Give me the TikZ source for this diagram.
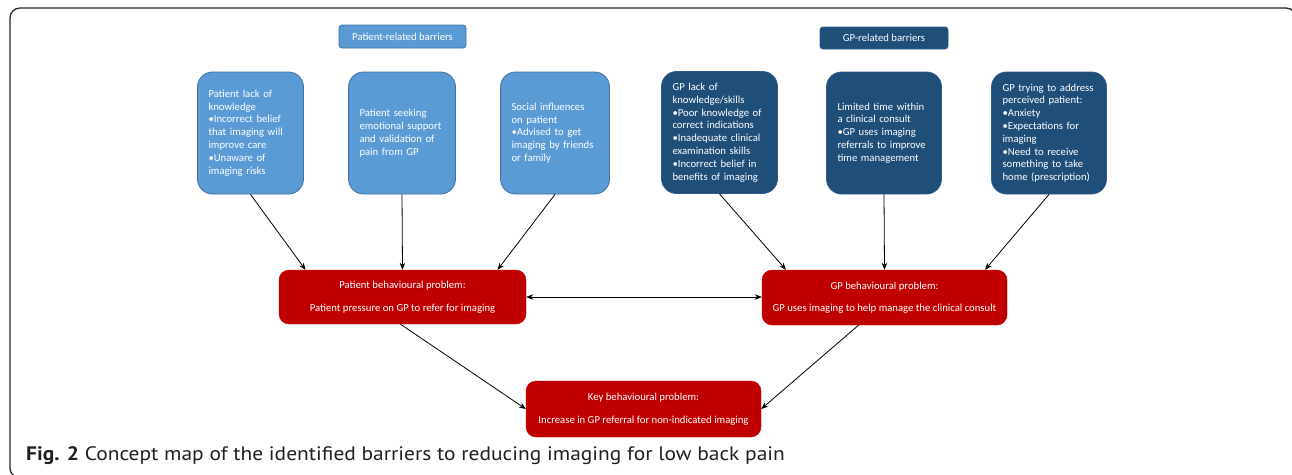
\documentclass[tikz,border=0pt]{standalone}
\usepackage{fontspec}
\setmainfont{Carlito}
\newfontfamily\capfont[FakeStretch=1.1]{PT Sans}
\usetikzlibrary{arrows.meta}
\definecolor{lblue}{HTML}{5B9BD5}
\definecolor{lblueb}{HTML}{41719C}
\definecolor{dblue}{HTML}{1F4E79}
\definecolor{dblueb}{HTML}{2E5C8A}
\definecolor{kred}{HTML}{C00000}
\definecolor{captxt}{HTML}{231F20}
\tikzset{
  boxtxt/.style={font=\fontsize{10.7}{12.8}\selectfont, text=white},
  pbox/.style={boxtxt, draw=lblueb, fill=lblue, rounded corners=15pt, align=left,
    inner xsep=11pt, inner ysep=0pt, minimum height=122pt, line width=0.8pt},
  gbox/.style={boxtxt, draw=dblueb, fill=dblue, rounded corners=15pt, align=left,
    inner xsep=11pt, inner ysep=0pt, minimum height=122pt, line width=0.8pt},
  phdr/.style={boxtxt, draw=lblueb, fill=lblue, rounded corners=3pt,
    minimum width=127pt, minimum height=23pt, inner sep=0pt, line width=0.8pt},
  ghdr/.style={boxtxt, draw=dblueb, fill=dblue, rounded corners=3pt,
    minimum width=128pt, minimum height=22pt, inner sep=0pt, line width=0.8pt},
  rbox/.style={boxtxt, draw=kred, fill=kred, rounded corners=10pt, align=center, inner sep=0pt},
  conn/.style={-{Stealth[length=7pt,width=5.5pt]}, line width=0.8pt, black},
  dconn/.style={{Stealth[length=7pt,width=5.5pt]}-{Stealth[length=7pt,width=5.5pt]}, line width=0.8pt, black},
}
\begin{document}
\begin{tikzpicture}[x=1pt,y=-1pt]
\clip (0,0) rectangle (1292,474);
\useasboundingbox (0,0) rectangle (1292,474);
\draw[line width=1.3pt, black!85, rounded corners=10pt] (10,8) rectangle (1296,478);

% headers
\node[phdr] (ph) at (402.5,36.5) {Patient-related barriers};
\node[ghdr] (gh) at (884,38) {GP-related barriers};

% patient barriers
\node[pbox, text width=84pt] (p1) at (250.5,133) {Patient lack of\\knowledge\\•Incorrect belief\\that imaging will\\improve care\\•Unaware of\\imaging risks};
\node[pbox, text width=85pt] (p2) at (402,133) {Patient seeking\\emotional support\\and validation of\\pain from GP};
\node[pbox, text width=87pt] (p3) at (555,133) {Social influences\\on patient\\•Advised to get\\imaging by friends\\or family};

% GP barriers
\node[gbox, text width=94pt] (g1) at (719.5,132.5) {GP lack of\\knowledge/skills\\•Poor knowledge of\\correct indications\\•Inadequate clinical\\examination skills\\•Incorrect belief in\\benefits of imaging};
\node[gbox, text width=93pt] (g2) at (884,133) {Limited time within\\a clinical consult\\•GP uses imaging\\referrals to improve\\time management};
\node[gbox, text width=93pt] (g3) at (1049,133) {GP trying to address\\perceived patient:\\•Anxiety\\•Expectations for\\imaging\\•Need to receive\\something to take\\home (prescription)};

% behavioural problems
\node[rbox, minimum width=247pt, minimum height=54pt] (rb1) at (402.5,297) {Patient behavioural problem:\\[9.6pt]Patient pressure on GP to refer for imaging};
\node[rbox, minimum width=245pt, minimum height=55pt] (rb2) at (884.5,297.5) {GP behavioural problem:\\[9.6pt]GP uses imaging to help manage the clinical consult};
\node[rbox, minimum width=235pt, minimum height=56pt] (kb) at (643.5,409) {Key behavioural problem:\\[9.6pt]Increase in GP referral for non-indicated imaging};

% connectors
\draw[conn] (p1.south) -- ([xshift=-97pt]rb1.north);
\draw[conn] (p2.south) -- (rb1.north);
\draw[conn] (p3.south) -- ([xshift=95pt]rb1.north);
\draw[conn] (g1.south) -- ([xshift=-98.5pt]rb2.north);
\draw[conn] (g2.south) -- (rb2.north);
\draw[conn] (g3.south) -- ([xshift=100.5pt]rb2.north);
\draw[dconn] (rb1.east) -- (rb2.west |- rb1.east);
\draw[conn] ([xshift=-2pt]rb1.south) -- (kb.west);
\draw[conn] ([xshift=-26pt]rb2.south) -- (kb.east);

% caption
\node[anchor=base west, inner sep=0pt, text=captxt, font=\capfont\fontsize{19.5}{21}\selectfont] (cap) at (26,460)
  {\textbf{Fig. 2} Concept map of the identified barriers to reducing imaging for low back pain};
\end{tikzpicture}
\end{document}
